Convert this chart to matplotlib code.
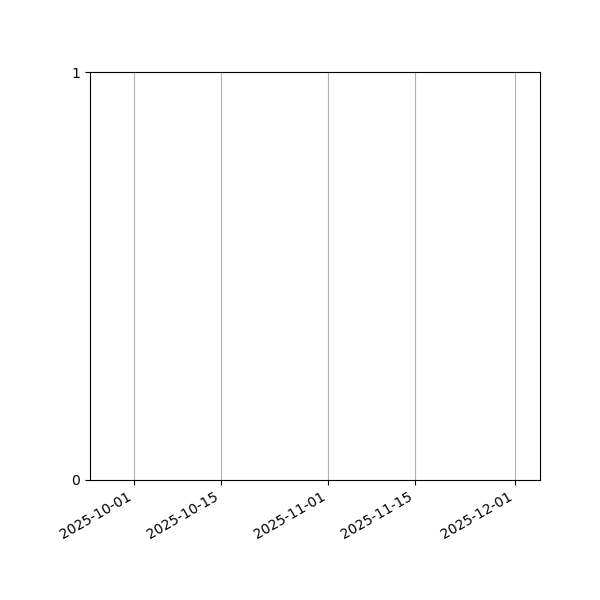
import numpy as np
import matplotlib
matplotlib.use('Agg')
import matplotlib.pyplot as plt
import matplotlib.dates as mdates

# data: date window shown, no series drawn
start_date = np.datetime64('2025-09-24')
end_date = np.datetime64('2025-12-05')
tick_dates = np.array(['2025-10-01', '2025-10-15', '2025-11-01', '2025-11-15', '2025-12-01'],
                      dtype='datetime64[D]')
y_ticks = [0, 1]

fig, ax = plt.subplots(figsize=(6, 6), dpi=100)
fig.subplots_adjust(left=0.15, right=0.9, top=0.88, bottom=0.2)

ax.set_xlim(start_date, end_date)
ax.set_ylim(0, 1)
ax.set_xticks(tick_dates)
ax.xaxis.set_major_formatter(mdates.DateFormatter('%Y-%m-%d'))
ax.set_yticks(y_ticks)
ax.grid(True, axis='x', color='#b0b0b0')

for lbl in ax.get_xticklabels():
    lbl.set_rotation(30)
    lbl.set_ha('right')

fig.savefig('out.png', dpi=100)
